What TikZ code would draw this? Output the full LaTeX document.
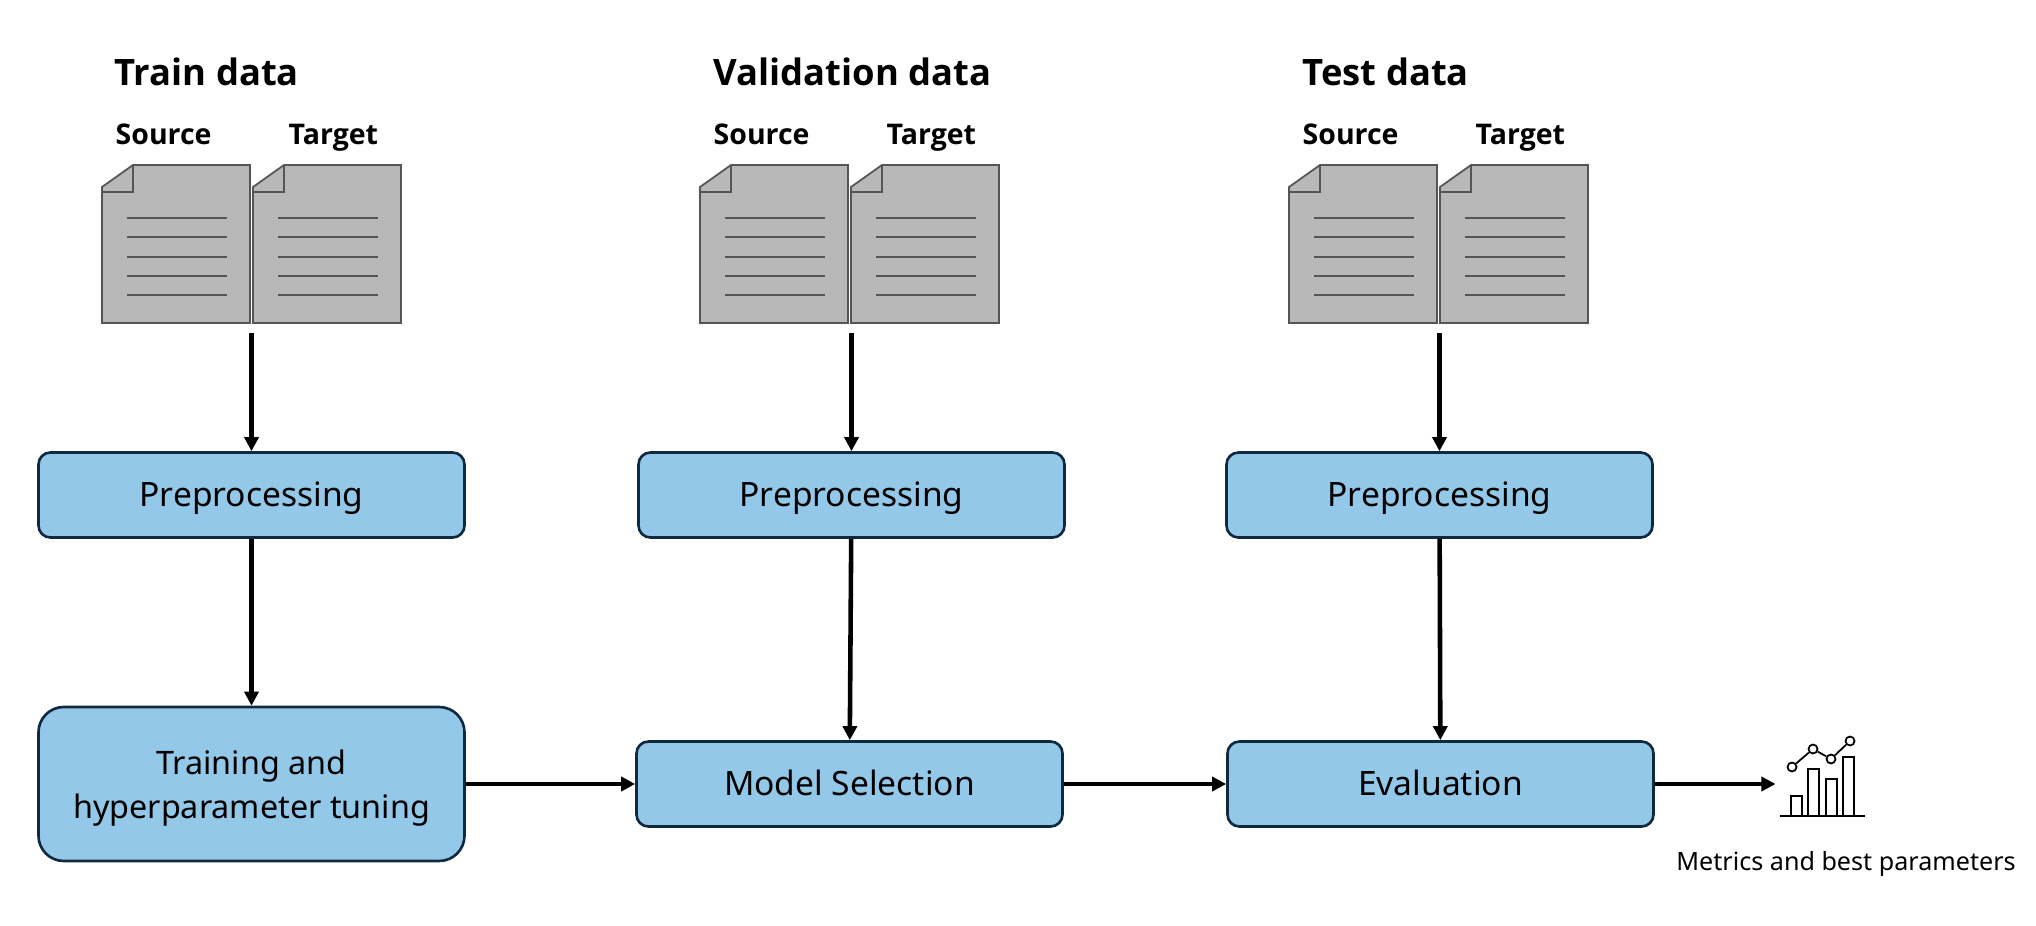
\documentclass[tikz,border=0pt]{standalone}
\usepackage{fontspec}
\setmainfont{Noto Sans}
\newfontfamily\headfont{Open Sans}
\usetikzlibrary{arrows.meta}
\definecolor{boxfill}{HTML}{94C8E8}
\definecolor{boxline}{HTML}{0F2A40}
\definecolor{sheetfill}{HTML}{B8B8B8}
\definecolor{sheetline}{HTML}{555555}
\tikzset{
  sheet/.pic={
    \draw[sheetline, fill=sheetfill, line width=0.5pt] (0,22) -- (31,0) -- (148,0) -- (148,158) -- (0,158) -- cycle;
    \draw[sheetline, line width=0.5pt] (0,27) -- (31,27) -- (31,0);
    \draw[sheetline, line width=0.5pt] (25,53) -- (125,53);
    \draw[sheetline, line width=0.5pt] (25,72) -- (125,72);
    \draw[sheetline, line width=0.5pt] (25,92) -- (125,92);
    \draw[sheetline, line width=0.5pt] (25,111) -- (125,111);
    \draw[sheetline, line width=0.5pt] (25,130) -- (125,130);
  }
}
\begin{document}
\begin{tikzpicture}[x=0.1mm, y=-0.1mm, node distance=28.9mm, >={Triangle[length=4pt, width=4pt]},
                    block/.style={rectangle, rounded corners=3.4pt, draw=boxline, fill=boxfill, line width=0.75pt,
                                  minimum width=42.6mm, minimum height=8.5mm, align=center,
                                  font=\fontsize{9.55}{12.6}\selectfont},
                    oneline/.style={block, text height=6.8pt, text depth=0pt},
                    heading/.style={anchor=base west, inner sep=0pt, font=\fontsize{10.35}{12}\headfont\bfseries},
                    sublabel/.style={anchor=base west, inner sep=0pt, font=\fontsize{8.1}{9}\headfont\bfseries},
                    flow/.style={->, line width=1.3pt},
                    bar/.style={draw=black, line width=0.5pt},
                    dot/.style={circle, bar, inner sep=0pt, minimum size=0.9mm}]
  \useasboundingbox (0,0) rectangle (2036,926);
  % headings and documents
  \node[heading] (train) at (114,86) {Train data};
  \node[heading] (valid) at (713,86) {Validation data};
  \node[heading] (test) at (1302,86) {Test data};
  \node[sublabel] (srcA) at (115,144.5) {Source};
  \node[sublabel] (tgtA) at (288,144.5) {Target};
  \node[sublabel] (srcB) at (713,144.5) {Source};
  \node[sublabel] (tgtB) at (886,144.5) {Target};
  \node[sublabel] (srcC) at (1302,144.5) {Source};
  \node[sublabel] (tgtC) at (1475,144.5) {Target};
  \pic at (102,165) {sheet};
  \pic at (253,165) {sheet};
  \pic at (700,165) {sheet};
  \pic at (851,165) {sheet};
  \pic at (1289,165) {sheet};
  \pic at (1440,165) {sheet};
  % blocks
  \node[oneline] (prepA) at (251.5,495) {Preprocessing};
  \node[block, below of=prepA, minimum height=15.4mm, rounded corners=7.2pt,
        font=\fontsize{9.2}{12.6}\selectfont] (tune) {\rule{0pt}{9.5pt}Training and\\hyperparameter tuning};
  \node[oneline, right of=prepA, node distance=60mm] (prepB) {Preprocessing};
  \node[oneline, right of=prepB, node distance=58.8mm] (prepC) {Preprocessing};
  \node[oneline, right of=tune, node distance=59.8mm] (select) {Model Selection};
  \node[oneline, right of=select, node distance=59.1mm] (eval) {Evaluation};
  \node[coordinate, above of=prepA, node distance=16.2mm] (dataA) {};
  \node[coordinate, above of=prepB, node distance=16.2mm] (dataB) {};
  \node[coordinate, above of=prepC, node distance=16.2mm] (dataC) {};
  \node[coordinate, right of=eval, node distance=33.5mm] (result) {};
  % connectors
  \draw[flow] (dataA) -- (prepA);
  \draw[flow] (dataB) -- (prepB);
  \draw[flow] (dataC) -- (prepC);
  \draw[flow] (prepA) -- (tune);
  \draw[flow] (prepB) -- (select);
  \draw[flow] (prepC) -- (eval);
  \draw[flow] (tune) -- (select);
  \draw[flow] (select) -- (eval);
  \draw[flow] (eval) -- (result);
  % chart
  \draw[bar] (1780,816) -- (1865,816);
  \draw[bar] (1791,816) rectangle (1802,796);
  \draw[bar] (1808,816) rectangle (1819,769);
  \draw[bar] (1826,816) rectangle (1837,779);
  \draw[bar] (1843,816) rectangle (1854,757);
  \node[dot] (ptA) at (1792,767) {};
  \node[dot] (ptB) at (1813,749) {};
  \node[dot] (ptC) at (1831,759) {};
  \node[dot] (ptD) at (1850,741) {};
  \draw[bar] (ptA) -- (ptB);
  \draw[bar] (ptB) -- (ptC);
  \draw[bar] (ptC) -- (ptD);
  \node[anchor=base, inner sep=0pt, font=\fontsize{7.15}{9}\selectfont] (metrics) at (1846,870) {Metrics and best parameters};
\end{tikzpicture}
\end{document}
